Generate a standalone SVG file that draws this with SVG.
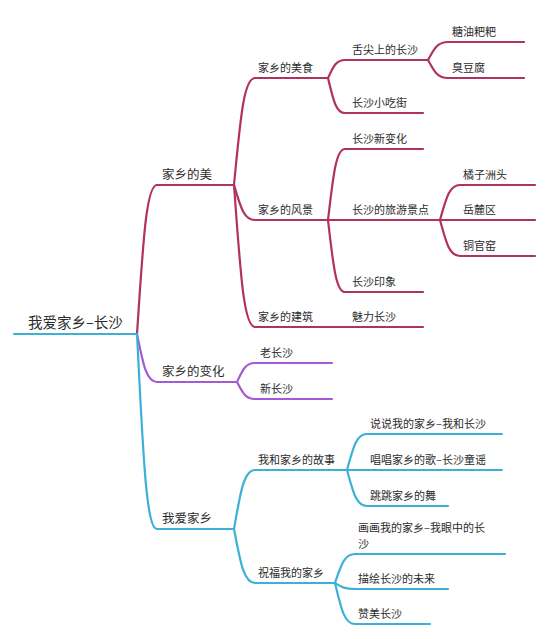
<svg xmlns="http://www.w3.org/2000/svg" width="550" height="639" viewBox="0 0 550 639">
<style>
text{font-family:"Noto Sans CJK SC","Noto Sans",sans-serif;fill:#2b2b2b}
.t0{font-size:14.5px}
.t1{font-size:12.5px}
.t2{font-size:11px}
path,line{fill:none;stroke-width:2.2;stroke-linecap:round}
.r{stroke:#b2325f}
.p{stroke:#a45ad3}
.b{stroke:#3db0d8}
</style>
<rect width="550" height="639" fill="#ffffff"/>
<g id="connectors">
<path class="r" d="M137,334 C143,244.6 146,185 157,185"/>
<path class="p" d="M137,334 C143,362.8 146,382 157,382"/>
<path class="b" d="M137,334 C143,451 146,529 157,529"/>
<path class="r" d="M234,185 C240.3,120.8 243.5,78 255,78"/>
<path class="r" d="M234,185 C240.3,206 243.5,220 255,220"/>
<path class="r" d="M234,185 C240.3,270.2 243.5,327 255,327"/>
<path class="r" d="M328,78 C333.1,67.2 335.7,60 345,60"/>
<path class="r" d="M328,78 C333.1,99 335.7,113 345,113"/>
<path class="r" d="M428,60 C434,49.2 437,42 448,42"/>
<path class="r" d="M428,60 C434,70.8 437,78 448,78"/>
<path class="r" d="M328,220 C333.1,177.4 335.7,149 345,149"/>
<path class="r" d="M328,220 H345"/>
<path class="r" d="M328,220 C333.1,263.2 335.7,292 345,292"/>
<path class="r" d="M440,220 C446,199 449,185 460,185"/>
<path class="r" d="M440,220 H460"/>
<path class="r" d="M440,220 C446,241.6 449,256 460,256"/>
<path class="r" d="M328,327 H345"/>
<path class="p" d="M237,382 C242.4,370.6 245.1,363 255,363"/>
<path class="p" d="M237,382 C242.4,392.2 245.1,399 255,399"/>
<path class="b" d="M234,529 C240.3,493.6 243.5,470 255,470"/>
<path class="b" d="M234,529 C240.3,561.4 243.5,583 255,583"/>
<path class="b" d="M347,470 C353,448.4 356,434 367,434"/>
<path class="b" d="M347,470 H367"/>
<path class="b" d="M347,470 C353,491.6 356,506 367,506"/>
<path class="b" d="M335,583 C341,565.6 344,554 355,554"/>
<path class="b" d="M335,583 C341,586.6 344,589 355,589"/>
<path class="b" d="M335,583 C341,607.6 344,624 355,624"/>
</g>
<g id="root"><line class="b" x1="14" y1="334" x2="137" y2="334"/><text class="t0" x="28" y="328">我爱家乡–长沙</text></g>
<g id="n-mei"><line class="r" x1="157" y1="185" x2="234" y2="185"/><text class="t1" x="162" y="179">家乡的美</text></g>
<g id="n-bianhua"><line class="p" x1="157" y1="382" x2="237" y2="382"/><text class="t1" x="162" y="376">家乡的变化</text></g>
<g id="n-aijia"><line class="b" x1="157" y1="529" x2="234" y2="529"/><text class="t1" x="162" y="523">我爱家乡</text></g>
<g id="n-meishi"><line class="r" x1="255" y1="78" x2="328" y2="78"/><text class="t2" x="258" y="72">家乡的美食</text></g>
<g id="n-fengjing"><line class="r" x1="255" y1="220" x2="328" y2="220"/><text class="t2" x="258" y="214">家乡的风景</text></g>
<g id="n-jianzhu"><line class="r" x1="255" y1="327" x2="328" y2="327"/><text class="t2" x="258" y="321">家乡的建筑</text></g>
<g id="n-shejian"><line class="r" x1="345" y1="60" x2="428" y2="60"/><text class="t2" x="352" y="54">舌尖上的长沙</text></g>
<g id="n-xiaochi"><line class="r" x1="345" y1="113" x2="423" y2="113"/><text class="t2" x="352" y="107">长沙小吃街</text></g>
<g id="n-tangyou"><line class="r" x1="448" y1="42" x2="524" y2="42"/><text class="t2" x="452" y="36">糖油粑粑</text></g>
<g id="n-chou"><line class="r" x1="448" y1="78" x2="524" y2="78"/><text class="t2" x="452" y="72">臭豆腐</text></g>
<g id="n-xinbian"><line class="r" x1="345" y1="149" x2="423" y2="149"/><text class="t2" x="352" y="143">长沙新变化</text></g>
<g id="n-lvyou"><line class="r" x1="345" y1="220" x2="440" y2="220"/><text class="t2" x="352" y="214">长沙的旅游景点</text></g>
<g id="n-yinxiang"><line class="r" x1="345" y1="292" x2="423" y2="292"/><text class="t2" x="352" y="286">长沙印象</text></g>
<g id="n-juzi"><line class="r" x1="460" y1="185" x2="535" y2="185"/><text class="t2" x="463" y="179">橘子洲头</text></g>
<g id="n-yuelu"><line class="r" x1="460" y1="220" x2="535" y2="220"/><text class="t2" x="463" y="214">岳麓区</text></g>
<g id="n-tongguan"><line class="r" x1="460" y1="256" x2="535" y2="256"/><text class="t2" x="463" y="250">铜官窑</text></g>
<g id="n-meili"><line class="r" x1="345" y1="327" x2="423" y2="327"/><text class="t2" x="352" y="321">魅力长沙</text></g>
<g id="n-lao"><line class="p" x1="255" y1="363" x2="332" y2="363"/><text class="t2" x="260" y="357">老长沙</text></g>
<g id="n-xin"><line class="p" x1="255" y1="399" x2="332" y2="399"/><text class="t2" x="260" y="393">新长沙</text></g>
<g id="n-gushi"><line class="b" x1="255" y1="470" x2="347" y2="470"/><text class="t2" x="258" y="464">我和家乡的故事</text></g>
<g id="n-zhufu"><line class="b" x1="255" y1="583" x2="335" y2="583"/><text class="t2" x="258" y="577">祝福我的家乡</text></g>
<g id="n-shuoshuo"><line class="b" x1="367" y1="434" x2="502" y2="434"/><text class="t2" x="370" y="428">说说我的家乡–我和长沙</text></g>
<g id="n-changchang"><line class="b" x1="367" y1="470" x2="502" y2="470"/><text class="t2" x="370" y="464">唱唱家乡的歌–长沙童谣</text></g>
<g id="n-tiaotiao"><line class="b" x1="367" y1="506" x2="448" y2="506"/><text class="t2" x="370" y="500">跳跳家乡的舞</text></g>
<g id="n-huahua"><line class="b" x1="355" y1="554" x2="505" y2="554"/><text class="t2" x="358" y="532">画画我的家乡–我眼中的长<tspan x="358" y="548">沙</tspan></text></g>
<g id="n-miaohui"><line class="b" x1="355" y1="589" x2="448" y2="589"/><text class="t2" x="358" y="583">描绘长沙的未来</text></g>
<g id="n-zanmei"><line class="b" x1="355" y1="624" x2="430" y2="624"/><text class="t2" x="358" y="618">赞美长沙</text></g>
</svg>
